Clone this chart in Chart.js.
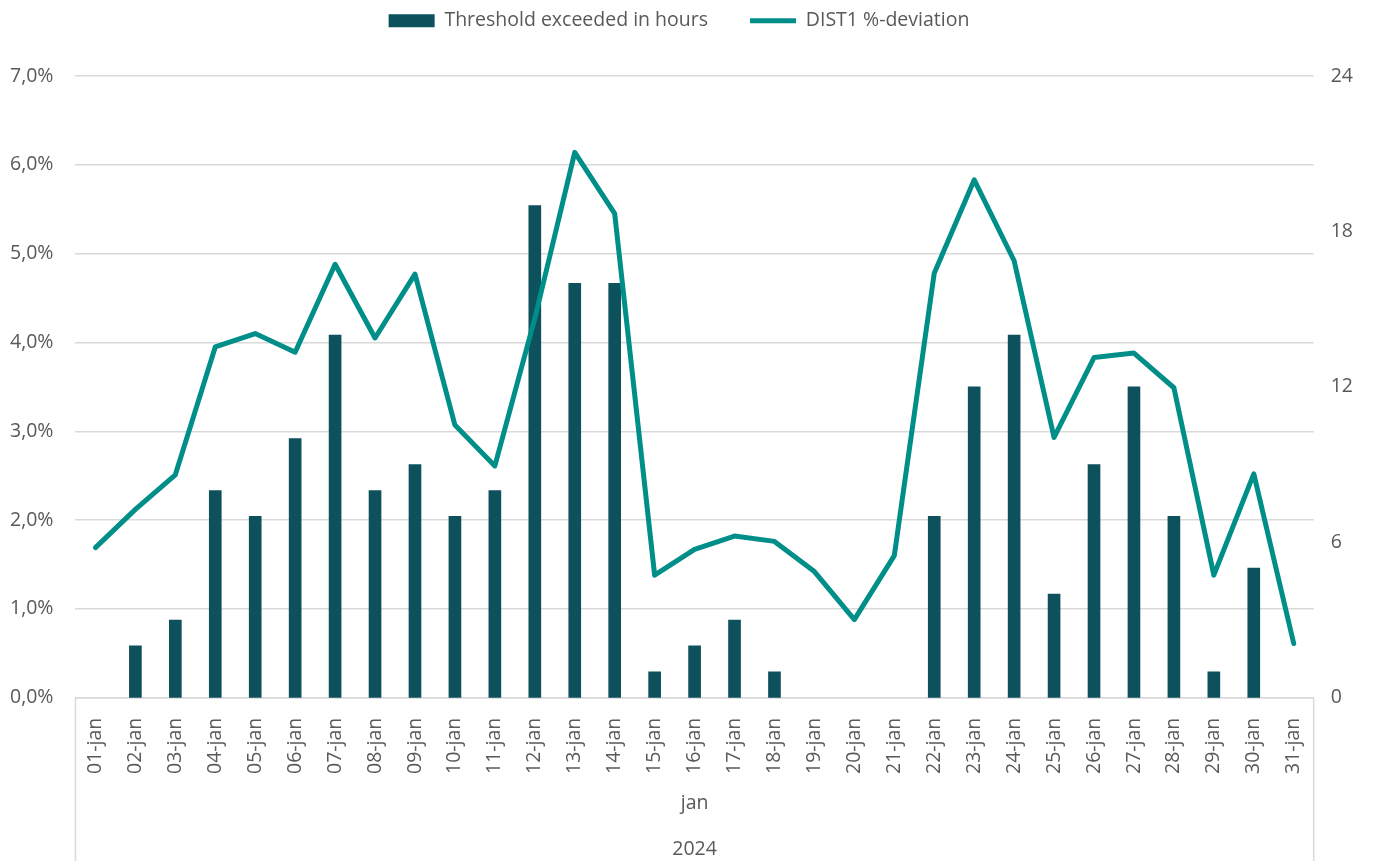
<!DOCTYPE html>
<html lang="en">
<head>
    <meta charset="UTF-8">
    <title>Threshold exceeded</title>
    <script src="https://cdn.jsdelivr.net/npm/chart.js"></script>
    <style>
        body {
            margin: 0;
            padding: 0;
            background-color: #ffffff;
        }

        .chart-box {
            width: 1374px;
            height: 861px;
        }
    </style>
</head>
<body>
    <div class="chart-box">
        <canvas id="chart1"></canvas>
    </div>
    <script>
        // dagar i januari 2024
        var days = ['01-jan', '02-jan', '03-jan', '04-jan', '05-jan', '06-jan', '07-jan', '08-jan', '09-jan', '10-jan',
            '11-jan', '12-jan', '13-jan', '14-jan', '15-jan', '16-jan', '17-jan', '18-jan', '19-jan', '20-jan',
            '21-jan', '22-jan', '23-jan', '24-jan', '25-jan', '26-jan', '27-jan', '28-jan', '29-jan', '30-jan', '31-jan'];

        // timmar över gränsvärdet (höger axel)
        var hoursExceeded = [0, 2, 3, 8, 7, 10, 14, 8, 9, 7,
            8, 19, 16, 16, 1, 2, 3, 1, 0, 0,
            0, 7, 12, 14, 4, 9, 12, 7, 1, 5, 0];

        // DIST1 avvikelse i procent (vänster axel)
        var deviationPct = [1.69, 2.12, 2.51, 3.95, 4.10, 3.89, 4.88, 4.05, 4.77, 3.07,
            2.61, 4.27, 6.14, 5.45, 1.38, 1.67, 1.82, 1.76, 1.42, 0.88,
            1.60, 4.78, 5.83, 4.92, 2.93, 3.83, 3.88, 3.49, 1.38, 2.52, 0.61];

        var groupMonth = 'jan';
        var groupYear = '2024';

        var textColor = '#595959';
        var gridColor = '#d9d9d9';
        var barColor = '#0C515C';
        var fontFamily = '"Open Sans", sans-serif';
        var fontSize = 19.5;

        // ritar årsgrupperingen under x-axeln
        var groupLabels = {
            id: 'groupLabels',
            beforeInit: function (chart) {
                // legenden ska ta mer plats nedåt
                var fit = chart.legend.fit;
                chart.legend.fit = function () {
                    fit.call(this);
                    this.height = 107;
                };
            },
            afterDraw: function (chart) {
                var ctx = chart.ctx;
                var area = chart.chartArea;
                var h = chart.height;
                ctx.save();
                ctx.strokeStyle = gridColor;
                ctx.lineWidth = 1.5;
                ctx.beginPath();
                ctx.moveTo(area.left, area.bottom);
                ctx.lineTo(area.left, h);
                ctx.moveTo(area.right, area.bottom);
                ctx.lineTo(area.right, h);
                ctx.stroke();
                ctx.fillStyle = textColor;
                ctx.font = fontSize + 'px ' + fontFamily;
                ctx.textAlign = 'center';
                ctx.textBaseline = 'middle';
                var cx = (area.left + area.right) / 2;
                ctx.fillText(groupMonth, cx, area.bottom + 106);
                ctx.fillText(groupYear, cx, area.bottom + 152);
                ctx.restore();
            }
        };

        var ctx1 = document.getElementById('chart1').getContext('2d');
        var chart1 = new Chart(ctx1, {
            data: {
                labels: days,
                datasets: [{
                    type: 'bar',
                    label: 'Threshold exceeded in hours',
                    data: hoursExceeded,
                    backgroundColor: function (c) {
                        // nollvärden ritas inte
                        return c.raw === 0 ? 'rgba(0,0,0,0)' : barColor;
                    },
                    yAxisID: 'y2',
                    barThickness: 12,
                    pointStyle: 'rect',
                    order: 2
                }, {
                    type: 'line',
                    label: 'DIST1 %-deviation',
                    data: deviationPct,
                    borderColor: '#008E89',
                    backgroundColor: '#008E89',
                    borderWidth: 5,
                    borderCapStyle: 'round',
                    borderJoinStyle: 'round',
                    pointRadius: 0,
                    pointStyle: 'line',
                    tension: 0,
                    yAxisID: 'y',
                    order: 1
                }]
            },
            options: {
                responsive: true,
                maintainAspectRatio: false,
                animation: false,
                layout: {
                    padding: { left: -12, right: 4, top: -31, bottom: 75 }
                },
                plugins: {
                    legend: {
                        position: 'top',
                        labels: {
                            usePointStyle: true,
                            pointStyleWidth: 46,
                            boxHeight: 13,
                            color: textColor,
                            padding: 42,
                            font: { family: fontFamily, size: fontSize },
                            sort: function (a, b) {
                                return a.datasetIndex - b.datasetIndex;
                            },
                            generateLabels: function (chart) {
                                var items = Chart.defaults.plugins.legend.labels.generateLabels(chart);
                                items.forEach(function (it) {
                                    if (it.datasetIndex === 0) {
                                        it.fillStyle = barColor;
                                        it.strokeStyle = barColor;
                                    }
                                });
                                return items;
                            }
                        }
                    },
                    tooltip: { enabled: false }
                },
                scales: {
                    x: {
                        z: 1,
                        grid: { display: false },
                        border: { display: true, color: gridColor, width: 1.5 },
                        ticks: {
                            color: textColor,
                            minRotation: 90,
                            maxRotation: 90,
                            autoSkip: false,
                            padding: 12,
                            font: { family: fontFamily, size: fontSize }
                        }
                    },
                    y: {
                        position: 'left',
                        min: 0,
                        max: 7,
                        border: { display: false },
                        grid: { color: gridColor, lineWidth: 1.5, drawTicks: false },
                        ticks: {
                            stepSize: 1,
                            color: textColor,
                            padding: 22,
                            font: { family: fontFamily, size: fontSize },
                            callback: function (v) {
                                return v.toFixed(1).replace('.', ',') + '%';
                            }
                        }
                    },
                    y2: {
                        position: 'right',
                        min: 0,
                        max: 24,
                        border: { display: false },
                        grid: { display: false, drawTicks: false },
                        ticks: {
                            stepSize: 6,
                            color: textColor,
                            padding: 17,
                            font: { family: fontFamily, size: fontSize }
                        }
                    }
                }
            },
            plugins: [groupLabels]
        });
    </script>
</body>
</html>
